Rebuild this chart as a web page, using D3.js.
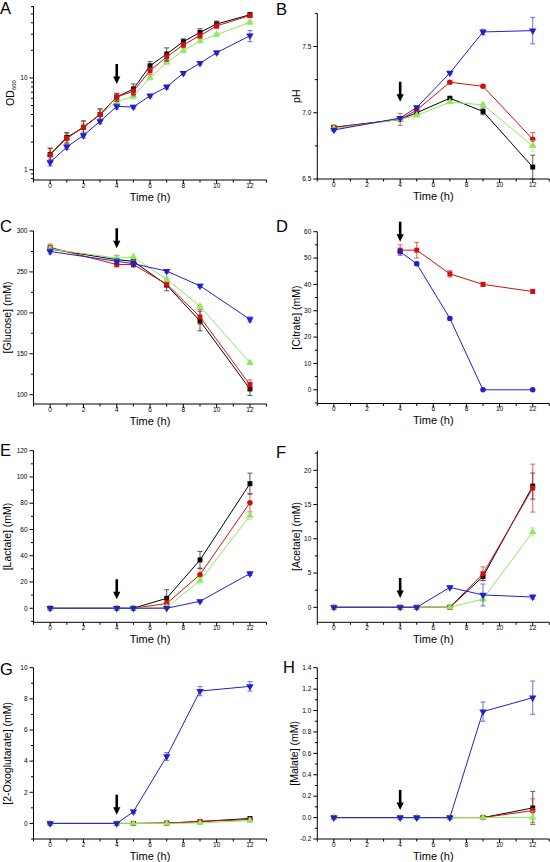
<!DOCTYPE html>
<html><head><meta charset="utf-8">
<script src="https://cdn.jsdelivr.net/npm/d3@7/dist/d3.min.js"></script>
<style>body{margin:0;background:#fff}svg{display:block}</style>
</head><body>
<svg id="c" width="550" height="862"></svg>
<script>
// ---------------- DATA ----------------
const tOD = [0,1,2,3,4,5,6,7,8,9,10,12];
const tMain = [0,4,5,7,9,12];
const tCit = [4,5,7,9,12];

// A: OD600
const odBlack = [1.47,2.25,2.9,4.0,6.2,7.6,13.6,18.3,24.9,31.5,38.8,49];
const odRed   = [1.45,2.2,2.9,4.0,6.2,7.2,12.0,17.0,23.0,29.0,37.0,48.0];
const odGreen = [1.45,2.2,2.9,4.0,5.5,6.3,10.1,14.8,19.9,25.3,29.7,40.5];
const odBlue  = [1.2,1.77,2.37,3.37,4.9,4.83,6.4,8.0,11.3,14.5,18.9,28.9];
const odBlackErr = [0.25,0.3,0.5,0.6,0.6,1.0,1.5,3.0,1.8,3.0,3.0,2.5];
const odRedErr   = [0.25,0.3,0.5,0.6,0.6,0.8,1.0,1.5,1.5,2.0,2.5,2.5];
const odGreenErr = [0.2,0.2,0.3,0.4,0.3,0.4,0.6,0.8,1.0,1.0,1.2,2.0];
const odBlueErr  = [0.1,0.1,0.15,0.2,0.3,0.2,0.3,0.4,0.5,0.6,0.8,4.0];

// B: pH
const phBlack = [6.89,6.95,7.00,7.11,7.01,6.59];
const phRed   = [6.89,6.95,7.02,7.23,7.20,6.80];
const phGreen = [6.88,6.95,6.98,7.08,7.06,6.75];
const phBlue  = [6.87,6.96,7.04,7.30,7.61,7.62];
const phBlackErr = [0.01,0.01,0.01,0.01,0.025,0.09];
const phRedErr   = [0.01,0.045,0.01,0.01,0.01,0.05];
const phGreenErr = [0.01,0.01,0.01,0.01,0.015,0.04];
const phBlueErr  = [0.01,0.01,0.01,0.01,0.02,0.10];

// C: Glucose
const gluBlack = [278,265,263,234,190,107];
const gluRed   = [280,259,259,235,195,112];
const gluGreen = [278,267,268,241,208,139];
const gluBlue  = [275,263,260,251,233,192];
const gluBlackErr = [3,5,3,7,12,8];
const gluRedErr   = [4,3,3,4,9,6];
const gluGreenErr = [3,3,4,3,2,2];
const gluBlueErr  = [3,3,3,2,2,3];

// D: Citrate
const citRed  = [53,53,44,40,37.3];
const citBlue = [52.4,47.8,27.1,0,0];
const citRedErr  = [2,3,1.2,0.8,0.8];
const citBlueErr = [0.8,0.6,0.6,0.3,0.3];

// E: Lactate
const lacBlack = [0,0,0,7.6,36.8,94.9];
const lacRed   = [0,0,0,3.6,25.6,80.4];
const lacGreen = [0,0,0,0.8,21,70.5];
const lacBlue  = [0,0,0,0,5.3,26.4];
const lacBlackErr = [0,0,0,6.5,6.5,8];
const lacRedErr   = [0,0,0,4,5,7];
const lacGreenErr = [0,0,0,1.5,2.5,3];
const lacBlueErr  = [0.5,0.5,0.5,0.5,1,1.5];

// F: Acetate
const aceBlack = [0,0,0,0,4.5,17.7];
const aceRed   = [0,0,0,0,4.9,17.4];
const aceGreen = [0,0,0,0,1.2,11.0];
const aceBlue  = [0,0,0,2.9,1.8,1.5];
const aceBlackErr = [0,0,0,0,0.6,1.9];
const aceRedErr   = [0,0,0,0,1.0,3.5];
const aceGreenErr = [0,0,0,0,0.3,0.6];
const aceBlueErr  = [0.1,0.1,0.1,0.2,1.6,0.3];

// G: 2-Oxoglutarate
const oxoBlack = [0,0,0,0.02,0.12,0.32];
const oxoRed   = [0,0,0,0.02,0.13,0.25];
const oxoGreen = [0,0,0,0,0.03,0.18];
const oxoBlue  = [0,0,0.75,4.3,8.5,8.8];
const oxoBlackErr = [0,0,0,0.03,0.05,0.05];
const oxoRedErr   = [0,0,0,0.03,0.05,0.05];
const oxoGreenErr = [0,0,0,0.02,0.03,0.04];
const oxoBlueErr  = [0.05,0.05,0.1,0.25,0.3,0.3];

// H: Malate
const malBlack = [0,0,0,0,0,0.09];
const malRed   = [0,0,0,0,0,0.065];
const malGreen = [0,0,0,0,0,0];
const malBlue  = [0,0,0,0,0.99,1.12];
const malBlackErr = [0,0,0,0,0.005,0.155];
const malRedErr   = [0,0,0,0,0.005,0.11];
const malGreenErr = [0,0,0,0,0.005,0.06];
const malBlueErr  = [0,0,0,0,0.09,0.155];

// tick labels
const xTickLabels = [0,2,4,6,8,10,12];
const arrowTime = 4;

// ---------------- STYLE ----------------
const COL = {black:"#000000", red:"#d01010", green:"#90e860", blue:"#2020cc"};
const FONT = "'Liberation Sans', Arial, sans-serif";

const svg = d3.select("#c");

const LEFT = [33.5, 266.6], RIGHT = [317.3, 549.3];

function panel(cfg){
  const g = svg.append("g");
  const x = d3.scaleLinear().domain([-1,13]).range(cfg.xr);
  const y = (cfg.log ? d3.scaleLog() : d3.scaleLinear()).domain(cfg.yd).range(cfg.yr);
  const y0 = cfg.yr[0], yTop = cfg.yr[1];
  const ax = g.append("g").attr("stroke","#000").attr("stroke-width",1);
  ax.append("line").attr("x1",cfg.xr[0]).attr("x2",cfg.xr[1]).attr("y1",y0).attr("y2",y0);
  ax.append("line").attr("x1",cfg.xr[0]).attr("x2",cfg.xr[0]).attr("y1",y0).attr("y2",yTop);
  const xMinor = d3.range(-1,14,2);
  xMinor.forEach(v=>ax.append("line").attr("x1",x(v)).attr("x2",x(v)).attr("y1",y0).attr("y2",y0+2.5));
  xTickLabels.forEach(v=>{
    ax.append("line").attr("x1",x(v)).attr("x2",x(v)).attr("y1",y0).attr("y2",y0+4);
    g.append("text").attr("x",x(v)).attr("y",y0+7.6)
      .attr("text-anchor","middle").attr("font-family",FONT).attr("font-size",6.5)
      .text(v);
  });
  cfg.yMinor.forEach(v=>ax.append("line").attr("x1",cfg.xr[0]).attr("x2",cfg.xr[0]-2.5).attr("y1",y(v)).attr("y2",y(v)));
  cfg.yMajor.forEach(v=>{
    ax.append("line").attr("x1",cfg.xr[0]).attr("x2",cfg.xr[0]-4).attr("y1",y(v)).attr("y2",y(v));
    g.append("text").attr("x",cfg.xr[0]-6).attr("y",y(v)).attr("dy","0.35em")
      .attr("text-anchor","end").attr("font-family",FONT).attr("font-size",6.5)
      .text(cfg.fmt(v));
  });
  g.append("text").attr("x",(cfg.xr[0]+cfg.xr[1])/2).attr("y",y0+20.5)
    .attr("text-anchor","middle").attr("font-family",FONT).attr("font-size",11).text("Time (h)");
  const yt = g.append("text").attr("transform",`translate(${cfg.ytx},${(y0+yTop)/2}) rotate(-90)`)
    .attr("text-anchor","middle").attr("dy","0.35em").attr("font-family",FONT).attr("font-size",10.5);
  if(cfg.ytitleSub){
    yt.append("tspan").text(cfg.ytitle);
    yt.append("tspan").attr("font-size",6).attr("dy","2.5").text(cfg.ytitleSub);
  } else yt.text(cfg.ytitle);
  g.append("text").attr("x",cfg.letterPos[0]).attr("y",cfg.letterPos[1])
    .attr("font-family",FONT).attr("font-size",16.5).text(cfg.letter);

  cfg.series.forEach(s=>{
    const c = COL[s.color];
    const pts = s.t.map((t,i)=>({t, v:s.v[i], e:s.e[i]}));
    const line = d3.line().x(d=>x(d.t)).y(d=>y(d.v));
    g.append("path").datum(pts).attr("d",line).attr("fill","none").attr("stroke",c).attr("stroke-width",1);
    const eg = g.append("g").attr("stroke",c).attr("stroke-width",1).attr("opacity",0.65);
    pts.forEach(d=>{
      if(!d.e) return;
      const lo = cfg.log ? Math.max(d.v-d.e, 0.01) : d.v-d.e;
      const ya = y(d.v+d.e), yb = y(lo);
      if(Math.abs(yb-ya) < 2) return;
      eg.append("line").attr("x1",x(d.t)).attr("x2",x(d.t)).attr("y1",ya).attr("y2",yb);
      eg.append("line").attr("x1",x(d.t)-2.5).attr("x2",x(d.t)+2.5).attr("y1",ya).attr("y2",ya);
      eg.append("line").attr("x1",x(d.t)-2.5).attr("x2",x(d.t)+2.5).attr("y1",yb).attr("y2",yb);
    });
    let sym, size, rot = 0;
    if(s.shape==="square"){sym=d3.symbolSquare; size=24;}
    else if(s.shape==="circle"){sym=d3.symbolCircle; size=24;}
    else if(s.shape==="up"){sym=d3.symbolTriangle; size=24;}
    else {sym=d3.symbolTriangle; size=24; rot=180;}
    const p = d3.symbol().type(sym).size(size)();
    g.selectAll(null).data(pts).enter().append("path").attr("d",p)
      .attr("transform",d=>`translate(${x(d.t)},${y(d.v)}) rotate(${rot})`)
      .attr("fill",c);
  });
  const ax4 = x(arrowTime), tip = y(cfg.arrowTip);
  g.append("rect").attr("x",ax4-1.3).attr("y",tip-20).attr("width",2.6).attr("height",14).attr("fill","#000");
  g.append("path").attr("d",`M${ax4-3.6},${tip-7.5}L${ax4+3.6},${tip-7.5}L${ax4},${tip}Z`).attr("fill","#000");
}

const f0 = v=>String(v), f1 = v=>v.toFixed(1);

panel({letter:"A", letterPos:[0,13.5], xr:LEFT, yr:[180,6], yd:[0.772,61], log:true,
  yMajor:[1,10], yMinor:[0.8,0.9,2,3,4,5,6,7,8,9,20,30,40,50,60], fmt:f0,
  ytitle:"OD", ytitleSub:"600", ytx:10, arrowTip:8.6,
  series:[
    {color:"green",shape:"up",t:tOD,v:odGreen,e:odGreenErr},
    {color:"black",shape:"square",t:tOD,v:odBlack,e:odBlackErr},
    {color:"red",shape:"square",t:tOD,v:odRed,e:odRedErr},
    {color:"blue",shape:"down",t:tOD,v:odBlue,e:odBlueErr}]});

panel({letter:"B", letterPos:[276,15], xr:RIGHT, yr:[179,13.4], yd:[6.5,7.75],
  yMajor:[6.5,7.0,7.5], yMinor:[6.75,7.25,7.75], fmt:f1,
  ytitle:"pH", ytx:296, arrowTip:7.083,
  series:[
    {color:"black",shape:"square",t:tMain,v:phBlack,e:phBlackErr},
    {color:"red",shape:"circle",t:tMain,v:phRed,e:phRedErr},
    {color:"green",shape:"up",t:tMain,v:phGreen,e:phGreenErr},
    {color:"blue",shape:"down",t:tMain,v:phBlue,e:phBlueErr}]});

panel({letter:"C", letterPos:[0,231.5], xr:LEFT, yr:[404,231], yd:[88.6,300],
  yMajor:[100,150,200,250,300], yMinor:[125,175,225,275], fmt:f0,
  ytitle:"[Glucose] (mM)", ytx:7.5, arrowTip:278.9,
  series:[
    {color:"black",shape:"square",t:tMain,v:gluBlack,e:gluBlackErr},
    {color:"red",shape:"square",t:tMain,v:gluRed,e:gluRedErr},
    {color:"green",shape:"up",t:tMain,v:gluGreen,e:gluGreenErr},
    {color:"blue",shape:"down",t:tMain,v:gluBlue,e:gluBlueErr}]});

panel({letter:"D", letterPos:[276,231.5], xr:RIGHT, yr:[403.5,231.7], yd:[-5.2,60],
  yMajor:[0,10,20,30,40,50,60], yMinor:[-5,5,15,25,35,45,55], fmt:f0,
  ytitle:"[Citrate] (mM)", ytx:296, arrowTip:56.2,
  series:[
    {color:"red",shape:"square",t:tCit,v:citRed,e:citRedErr},
    {color:"blue",shape:"circle",t:tCit,v:citBlue,e:citBlueErr}]});

panel({letter:"E", letterPos:[0,456], xr:LEFT, yr:[622.3,450.7], yd:[-10.7,120],
  yMajor:[0,20,40,60,80,100,120], yMinor:[-10,10,30,50,70,90,110], fmt:f0,
  ytitle:"[Lactate] (mM)", ytx:7.5, arrowTip:6.85,
  series:[
    {color:"black",shape:"square",t:tMain,v:lacBlack,e:lacBlackErr},
    {color:"red",shape:"circle",t:tMain,v:lacRed,e:lacRedErr},
    {color:"green",shape:"up",t:tMain,v:lacGreen,e:lacGreenErr},
    {color:"blue",shape:"down",t:tMain,v:lacBlue,e:lacBlueErr}]});

panel({letter:"F", letterPos:[276,458], xr:RIGHT, yr:[622.3,450.7], yd:[-2.19,22.86],
  yMajor:[0,5,10,15,20], yMinor:[-2.5,2.5,7.5,12.5,17.5,22.5].filter(v=>v>-2.19), fmt:f0,
  ytitle:"[Acetate] (mM)", ytx:296, arrowTip:1.36,
  series:[
    {color:"black",shape:"square",t:tMain,v:aceBlack,e:aceBlackErr},
    {color:"red",shape:"square",t:tMain,v:aceRed,e:aceRedErr},
    {color:"green",shape:"up",t:tMain,v:aceGreen,e:aceGreenErr},
    {color:"blue",shape:"down",t:tMain,v:aceBlue,e:aceBlueErr}]});

panel({letter:"G", letterPos:[0,675], xr:LEFT, yr:[839,667.7], yd:[-1,10],
  yMajor:[0,2,4,6,8,10], yMinor:[-1,1,3,5,7,9], fmt:f0,
  ytitle:"[2-Oxoglutarate] (mM)", ytx:7.5, arrowTip:0.56,
  series:[
    {color:"black",shape:"square",t:tMain,v:oxoBlack,e:oxoBlackErr},
    {color:"red",shape:"circle",t:tMain,v:oxoRed,e:oxoRedErr},
    {color:"green",shape:"up",t:tMain,v:oxoGreen,e:oxoGreenErr},
    {color:"blue",shape:"down",t:tMain,v:oxoBlue,e:oxoBlueErr}]});

panel({letter:"H", letterPos:[283,673], xr:RIGHT, yr:[839,667.7], yd:[-0.2,1.4],
  yMajor:[-0.2,0,0.2,0.4,0.6,0.8,1.0,1.2,1.4], yMinor:[-0.1,0.1,0.3,0.5,0.7,0.9,1.1,1.3], fmt:f1,
  ytitle:"[Malate] (mM)", ytx:294, arrowTip:0.072,
  series:[
    {color:"black",shape:"square",t:tMain,v:malBlack,e:malBlackErr},
    {color:"red",shape:"circle",t:tMain,v:malRed,e:malRedErr},
    {color:"green",shape:"up",t:tMain,v:malGreen,e:malGreenErr},
    {color:"blue",shape:"down",t:tMain,v:malBlue,e:malBlueErr}]});
</script>
</body></html>
